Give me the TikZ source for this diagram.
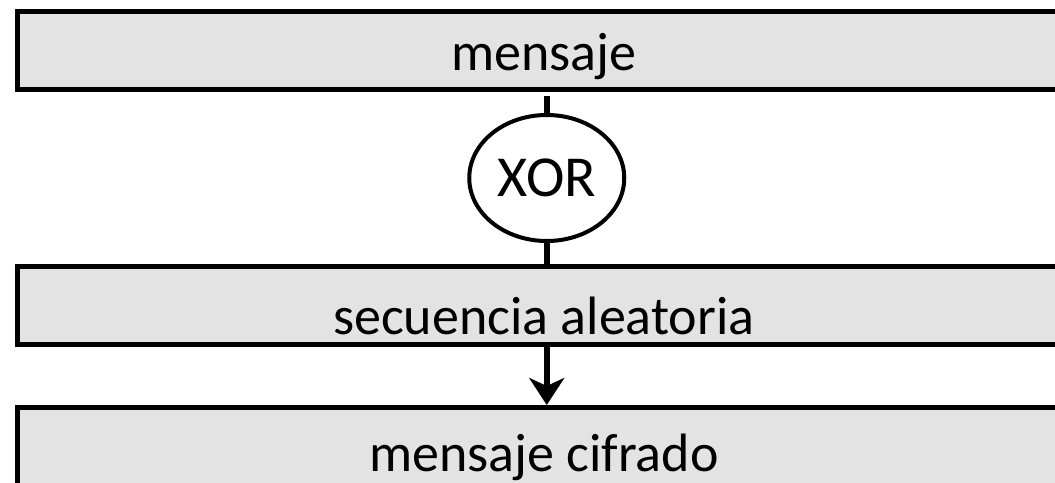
\documentclass[tikz,border=0pt]{standalone}
\usepackage{fontspec}
\setmainfont{Carlito}
\usepackage{xcolor}
\usetikzlibrary{positioning,arrows.meta,shapes.geometric}
\definecolor{boxgray}{HTML}{E3E3E3}

\begin{document}
\begin{tikzpicture}[x=1pt,y=1pt,>={Stealth[length=27pt,width=35pt,inset=8pt]},node distance=127.5pt,
    box node/.style={rectangle,draw,fill=boxgray,line width=5pt,minimum width=1052.5pt,minimum height=78pt,inner sep=0pt,text depth=0pt,font=\fontsize{54}{62}\selectfont},
    xor node/.style={ellipse,draw,fill=white,line width=4pt,minimum width=155pt,minimum height=126pt,inner sep=0pt,font=\fontsize{58}{66}\selectfont},
    link/.style={line width=6.5pt}]
    \clip (0,0) rectangle (1055,-482);
    \node[box node,text height=39pt] (1) at (543.75,-50.5) {mensaje};
    \node[xor node] (2) [below of=1,xshift=3pt] {XOR};
    \node[box node,text height=58pt] (3) [below of=2,xshift=-3pt] {secuencia aleatoria};
    \node[box node,text height=50pt] (4) [below of=3,node distance=141pt] {mensaje cifrado};

    \path[link]
        (2.north |- 1.south) edge[shorten <=4pt] (2.north)
        (2.south) edge (2.south |- 3.north)
    ;
    \draw[link,->] (2.south |- 3.south) -- (2.south |- 4.north);
\end{tikzpicture}
\end{document}
